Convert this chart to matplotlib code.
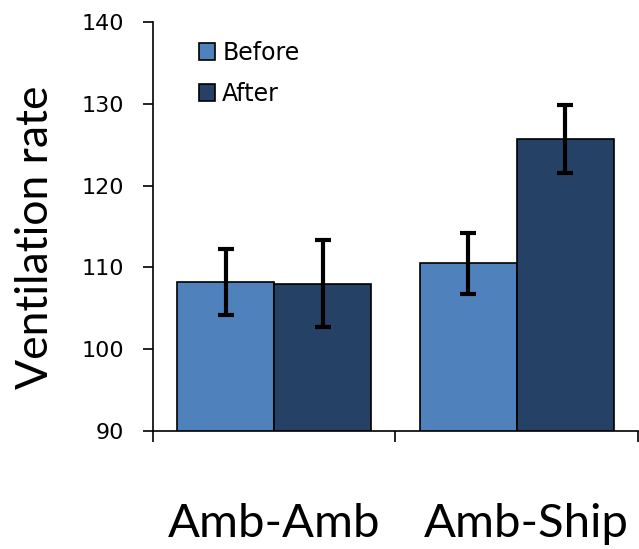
import matplotlib.pyplot as plt
import numpy as np

categories = ["Amb-Amb", "Amb-Ship"]
before = [108.2, 110.5]
before_err = [4.0, 3.7]
after = [108.0, 125.7]
after_err = [5.3, 4.2]

fig = plt.figure(figsize=(6.39, 5.49), dpi=100)
ax = fig.add_axes([0.2394, 0.2149, 0.7590, 0.7450])

x = np.arange(len(categories))
w = 0.4
err_kw = dict(elinewidth=3, capsize=6, capthick=3, ecolor="black")
ax.bar(x - w / 2, before, w, color="#4F81BD", edgecolor="black",
       linewidth=1.2, label="Before")
ax.bar(x + w / 2, after, w, color="#264166", edgecolor="black",
       linewidth=1.2, label="After")
ax.errorbar(x - w / 2, before, yerr=before_err, fmt="none", **err_kw)
ax.errorbar(x + w / 2, after, yerr=after_err, fmt="none", **err_kw)

ax.set_ylim(90, 140)
ax.set_xlim(-0.5, 1.5)
ax.set_yticks([90, 100, 110, 120, 130, 140])
ax.tick_params(axis="y", direction="out", length=7, width=1.2, labelsize=16, pad=14)

ax.set_xticks([-0.5, 0.5, 1.5])
ax.set_xticklabels([])
ax.tick_params(axis="x", which="major", direction="out", length=8, width=1.2)
# category labels sit slightly off-centre in the original
ax.set_xticks([0.0, 1.04], minor=True)
ax.set_xticklabels(categories, minor=True, fontsize=34, fontfamily="Lato")
ax.tick_params(axis="x", which="minor", length=0, pad=52)

ax.spines["top"].set_visible(False)
ax.spines["right"].set_visible(False)
ax.spines["left"].set_linewidth(1.2)
ax.spines["bottom"].set_linewidth(1.2)

ax.set_ylabel("Ventilation rate", fontsize=32, fontfamily="Lato", labelpad=18, y=0.473)

leg = ax.legend(loc="upper left", bbox_to_anchor=(0.06, 0.995), frameon=False,
                fontsize=17, handlelength=0.7, handleheight=0.7,
                handletextpad=0.3, labelspacing=0.72, borderpad=0.2)

fig.savefig("out.png", dpi=100)
